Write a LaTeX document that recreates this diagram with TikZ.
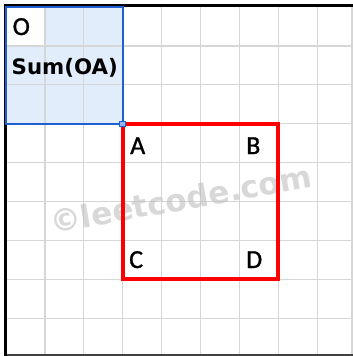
\documentclass[tikz,border=0pt]{standalone}
\usepackage{fontspec}
\setmainfont{Carlito}
\newfontfamily\cellfont{Carlito}[FakeBold=1.2]
\newfontfamily\boldsans{DejaVu Sans}
\definecolor{gridgray}{RGB}{214,214,214}
\definecolor{selblue}{RGB}{30,95,210}
\definecolor{selfill}{RGB}{226,237,252}
\definecolor{boxred}{RGB}{255,0,0}
\definecolor{markgray}{RGB}{190,190,190}
\begin{document}
\begin{tikzpicture}[x=1pt,y=-1pt,
  cellletter/.style={anchor=base west,inner sep=0pt,font=\cellfont\fontsize{26}{26}\selectfont},
  sumtext/.style={anchor=base west,inner sep=0pt,font=\boldsans\bfseries\fontsize{21.3}{21.3}\selectfont},
  gridline/.style={gridgray,line width=1.3pt}]
\useasboundingbox (0,0) rectangle (353,356);
\fill[white] (0,0) rectangle (353,356);
% selection fill
\fill[selfill] (6,7) rectangle (122.7,123.7);
\fill[white] (6,7) rectangle (44.9,45.9);
% grid
\foreach \k in {1,...,8} {
  \draw[gridline] ({6+38.9*\k},7) -- ({6+38.9*\k},356);
  \draw[gridline] (6,{7+38.9*\k}) -- (353,{7+38.9*\k});
}
\draw[gridline] (352,7) -- (352,356);
% watermark
\node[name=wm,rotate=10,inner sep=0pt,text=markgray,opacity=0.6,
  font=\boldsans\bfseries\fontsize{31}{31}\selectfont] at (181,199) {©leetcode.com};
% sheet borders
\draw[black!75,line width=2pt] (5,355) -- (353,355);
\draw[black,line width=3pt] (5.5,356) -- (5.5,5.5) -- (353,5.5);
% selection border
\draw[selblue,line width=2pt] (6,7) rectangle (122.7,123.7);
% red box
\draw[boxred,line width=4pt] (122.7,123.7) rectangle (278.3,279.3);
% handle
\fill[selblue] (119,120.5) rectangle (126,127);
\fill[selfill!60!selblue] (120,121.5) rectangle (125,126);
% texts
\node[cellletter,name=o] at (12.5,35) {O};
\node[sumtext,name=sum] at (11.5,74) {Sum(OA)};
\node[cellletter,name=a] at (130,154) {A};
\node[cellletter,name=b] at (246,154) {B};
\node[cellletter,name=c] at (129,268) {C};
\node[cellletter,name=d] at (246,268) {D};
\end{tikzpicture}
\end{document}
